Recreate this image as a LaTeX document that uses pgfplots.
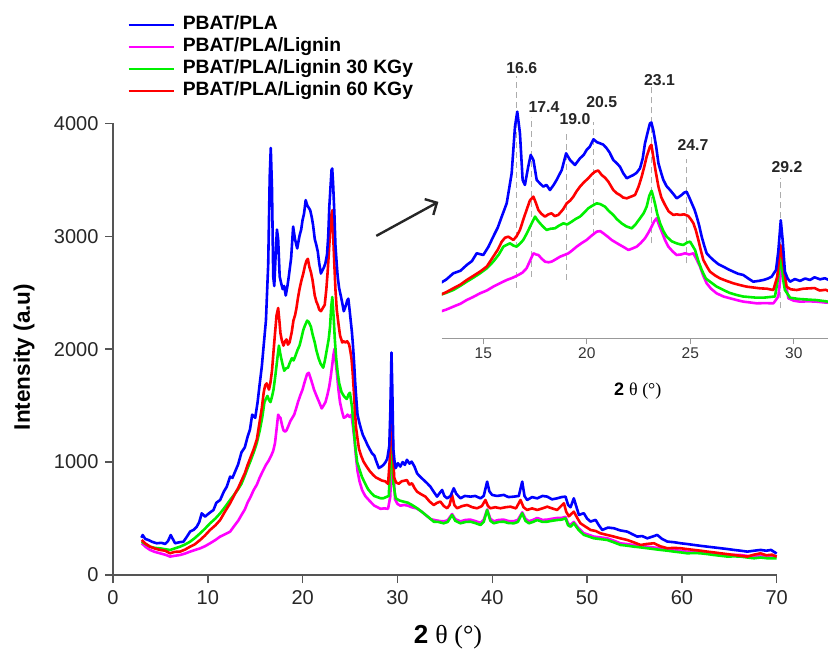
\documentclass[border=0pt]{standalone}
\usepackage{pgfplots}
\usepackage{pgfplotstable}
\pgfplotsset{compat=1.18}
\usepackage{fontspec}
\setmainfont{Liberation Sans}
\newfontfamily\serifgreek{Liberation Serif}
\usetikzlibrary{arrows.meta}

\definecolor{cblue}{RGB}{0,0,255}
\definecolor{cmag}{RGB}{255,0,255}
\definecolor{cgreen}{RGB}{0,240,0}
\definecolor{cred}{RGB}{255,0,0}
\definecolor{axisgray}{RGB}{85,85,85}

% XRD patterns, 2theta (deg) vs intensity (a.u.)
\pgfplotstableread{
x y
3.0 330
3.13 354
3.4 320
3.73 310
4.1 295
4.61 281
5.1 285
5.5 275
5.8 300
6.09 354
6.3 320
6.55 281
7.0 290
7.43 295
7.8 340
8.13 384
8.5 400
8.84 428
9.1 470
9.36 546
9.71 517
10.1 545
10.6 576
10.9 640
11.3 664
11.7 740
12.0 782
12.35 871
12.6 860
12.9 920
13.2 980
13.55 1086
13.9 1130
14.2 1225
14.45 1290
14.68 1420
15.0 1392
15.25 1530
15.48 1697
15.7 1850
15.89 2031
16.13 2253
16.37 2753
16.53 3531
16.64 3781
16.77 3420
16.9 2642
17.01 2559
17.17 2864
17.29 3059
17.42 2975
17.58 2642
17.75 2580
17.9 2531
18.05 2560
18.22 2475
18.4 2560
18.54 2642
18.79 2809
19.0 3086
19.19 2975
19.43 2892
19.67 3003
19.85 3060
19.99 3142
20.15 3200
20.32 3320
20.5 3270
20.64 3253
20.8 3230
20.96 3170
21.1 3100
21.28 2975
21.45 2920
21.6 2864
21.75 2760
21.93 2670
22.1 2700
22.25 2725
22.4 2760
22.57 2836
22.7 3000
22.81 3253
22.95 3450
23.05 3586
23.12 3600
23.21 3475
23.35 3200
23.46 2920
23.6 2750
23.7 2642
23.85 2540
24.02 2475
24.2 2400
24.34 2336
24.45 2360
24.58 2392
24.7 2430
24.82 2447
24.95 2350
25.07 2253
25.2 2150
25.31 2031
25.43 1880
25.55 1697
25.67 1550
25.79 1420
25.95 1360
26.11 1308
26.35 1240
26.6 1197
26.85 1150
27.08 1114
27.3 1080
27.56 1058
27.8 1000
28.04 947
28.3 960
28.53 975
28.75 1000
28.93 1031
29.14 1142
29.25 1450
29.37 1970
29.46 1642
29.57 1114
29.7 1000
29.82 947
30.05 990
30.3 960
30.55 1000
30.78 975
31.0 1020
31.27 986
31.5 1004
31.8 960
32.07 900
32.4 870
32.77 841
33.1 815
33.48 782
33.8 740
34.18 694
34.4 720
34.71 753
34.95 700
35.24 679
35.6 700
35.94 768
36.2 720
36.64 679
37.1 700
37.7 694
38.2 700
38.76 679
39.1 700
39.46 827
39.7 740
39.99 709
40.5 700
41.22 709
41.7 690
42.28 694
42.8 700
43.16 827
43.4 700
43.68 664
44.2 690
44.74 679
45.3 700
45.8 694
46.3 670
46.85 679
47.3 690
47.73 694
48.0 620
48.26 600
48.6 679
49.14 532
49.66 547
50.0 500
50.37 473
50.9 488
51.25 440
51.6 399
52.2 420
52.83 414
53.5 395
54.24 384
54.8 360
55.3 340
55.8 345
56.35 325
56.9 340
57.4 355
57.9 320
58.46 296
59.2 290
59.87 281
60.5 275
61.28 266
62.0 258
62.69 251
63.4 244
64.1 237
64.8 230
65.5 222
66.2 215
66.9 207
67.6 215
68.3 222
68.9 215
69.4 222
70.0 190
}\tblue

\pgfplotstableread{
x y
3.03 281
3.5 245
3.9 222
4.4 205
4.96 192
5.5 180
6.02 163
6.5 170
7.07 177
7.6 190
8.13 207
8.6 220
9.19 236
9.7 255
10.24 281
10.8 310
11.3 340
11.8 360
12.35 384
12.9 447
13.2 480
13.55 531
13.9 580
14.2 642
14.5 690
14.84 753
15.17 800
15.48 864
15.8 920
16.13 975
16.4 1010
16.69 1058
16.9 1100
17.09 1170
17.25 1290
17.42 1420
17.55 1400
17.66 1392
17.82 1330
17.98 1281
18.15 1270
18.3 1281
18.5 1320
18.71 1364
18.9 1390
19.11 1420
19.3 1470
19.51 1531
19.75 1590
19.99 1642
20.25 1720
20.48 1781
20.65 1790
20.8 1753
21.0 1700
21.2 1642
21.4 1600
21.6 1559
21.8 1520
22.01 1475
22.2 1500
22.41 1531
22.6 1590
22.81 1670
22.97 1760
23.13 1864
23.25 1950
23.37 2003
23.5 1880
23.62 1781
23.78 1640
23.94 1531
24.15 1450
24.34 1392
24.55 1400
24.74 1420
24.95 1400
25.15 1420
25.3 1320
25.47 1197
25.62 1050
25.79 920
26.0 830
26.27 753
26.6 700
26.92 670
27.25 640
27.56 614
27.9 600
28.21 586
28.6 590
29.01 586
29.25 697
29.41 1197
29.57 975
29.74 670
30.0 630
30.3 614
30.7 620
31.1 614
31.5 600
32.0 590
32.5 565
33.0 530
33.5 495
34.0 485
34.5 478
34.88 475
35.3 485
35.76 540
36.1 495
36.64 475
37.2 488
37.7 490
38.2 478
38.76 462
39.1 488
39.46 580
39.8 498
40.16 476
40.7 488
41.22 490
41.7 478
42.28 476
42.7 488
43.16 555
43.5 498
43.86 476
44.3 488
44.74 505
45.3 488
45.8 490
46.3 498
46.85 505
47.3 505
47.73 515
48.0 455
48.26 445
48.6 470
49.1 415
49.66 370
50.2 355
50.72 340
51.4 333
52.13 325
52.8 305
53.54 280
54.2 274
54.94 265
55.6 259
56.35 251
57.0 244
57.76 236
58.5 229
59.17 221
59.9 214
60.58 206
61.3 209
61.98 206
62.7 199
63.39 191
64.1 184
64.8 177
65.5 179
66.2 177
66.9 169
67.62 162
68.3 169
69.0 162
70.0 162
}\tmag

\pgfplotstableread{
x y
3.03 295
3.5 270
3.9 251
4.4 240
4.96 236
5.5 228
6.02 222
6.5 235
7.07 251
7.6 270
8.13 295
8.6 325
9.19 369
9.7 410
10.24 458
10.8 500
11.3 546
11.8 600
12.35 664
12.9 725
13.2 760
13.55 808
13.9 880
14.2 947
14.5 1010
14.84 1086
15.17 1170
15.48 1281
15.75 1400
15.97 1531
16.13 1560
16.29 1586
16.45 1550
16.61 1531
16.77 1580
16.93 1642
17.1 1750
17.26 1864
17.38 1950
17.5 2031
17.62 1970
17.74 1920
17.9 1860
18.06 1809
18.25 1830
18.46 1836
18.65 1880
18.87 1920
19.05 1900
19.27 1947
19.45 1990
19.67 2031
19.85 2090
20.07 2170
20.25 2210
20.48 2253
20.65 2240
20.88 2197
21.05 2130
21.28 2059
21.45 1990
21.68 1920
21.9 1870
22.17 1836
22.35 1900
22.57 2003
22.75 2090
22.89 2197
23.02 2380
23.13 2462
23.22 2350
23.29 2253
23.4 2080
23.54 1920
23.7 1790
23.86 1697
24.1 1620
24.34 1586
24.5 1570
24.66 1559
24.85 1600
24.99 1614
25.1 1550
25.23 1475
25.38 1300
25.55 1142
25.75 1000
25.95 947
26.25 870
26.6 808
26.9 760
27.24 725
27.55 700
27.88 690
28.2 680
28.53 680
28.8 690
29.09 700
29.25 1031
29.37 1400
29.5 950
29.57 808
29.82 680
30.2 660
30.62 650
31.1 640
31.54 620
32.1 590
32.77 546
33.3 510
33.83 472
34.3 470
34.88 458
35.3 470
35.76 531
36.1 480
36.64 458
37.2 470
37.7 472
38.2 460
38.76 443
39.1 470
39.46 576
39.8 480
40.16 458
40.7 470
41.22 472
41.7 460
42.28 458
42.7 470
43.16 546
43.5 480
43.86 458
44.3 470
44.74 487
45.3 470
45.8 472
46.3 480
46.85 487
47.3 490
47.73 502
48.0 440
48.26 428
48.6 458
49.1 400
49.66 355
50.2 340
50.72 325
51.4 318
52.13 310
52.8 290
53.54 266
54.2 260
54.94 251
55.6 245
56.35 237
57.0 230
57.76 222
58.5 215
59.17 207
59.9 200
60.58 192
61.3 195
61.98 192
62.7 185
63.39 177
64.1 170
64.8 163
65.5 165
66.2 163
66.9 155
67.62 148
68.3 155
69.0 148
70.0 148
}\tgreen

\pgfplotstableread{
x y
3.03 310
3.4 280
3.9 251
4.4 235
4.96 222
5.5 215
6.02 192
6.5 205
7.07 207
7.6 225
8.13 251
8.6 270
9.19 310
9.7 350
10.24 399
10.8 440
11.3 487
11.8 560
12.35 635
12.9 725
13.2 770
13.55 836
13.9 900
14.2 975
14.5 1040
14.84 1114
15.17 1200
15.48 1364
15.7 1480
15.89 1614
16.05 1680
16.21 1697
16.45 1642
16.6 1700
16.77 1809
16.95 2000
17.09 2142
17.25 2300
17.42 2364
17.55 2250
17.66 2142
17.8 2080
17.98 2031
18.15 2070
18.3 2086
18.45 2040
18.62 2059
18.85 2150
19.03 2253
19.2 2300
19.35 2364
19.5 2450
19.67 2531
19.85 2600
20.07 2670
20.25 2740
20.4 2781
20.55 2800
20.72 2725
20.88 2680
21.04 2614
21.15 2550
21.28 2475
21.45 2420
21.6 2392
21.75 2350
21.93 2336
22.1 2360
22.33 2392
22.5 2530
22.65 2697
22.78 2870
22.89 3031
23.05 3197
23.12 3230
23.21 3031
23.33 2780
23.46 2531
23.6 2350
23.78 2225
23.95 2120
24.18 2059
24.35 2070
24.5 2059
24.7 2070
24.9 2042
25.02 1990
25.15 1920
25.27 1800
25.39 1642
25.5 1480
25.63 1308
25.8 1200
25.95 1114
26.2 1050
26.43 1003
26.75 960
27.08 920
27.4 890
27.72 864
28.05 850
28.37 836
28.7 830
29.01 808
29.2 1031
29.35 1560
29.49 1253
29.65 864
29.85 820
30.14 808
30.45 830
30.78 836
31.0 841
31.25 800
31.54 812
31.8 770
32.07 738
32.5 715
32.95 694
33.4 650
33.83 620
34.2 640
34.53 650
34.9 610
35.24 591
35.5 620
35.76 709
36.0 620
36.29 591
36.8 610
37.35 620
37.9 600
38.4 591
38.9 610
39.28 664
39.55 610
39.81 591
40.3 600
40.87 591
41.4 600
41.92 605
42.5 590
42.98 664
43.3 600
43.68 576
44.2 590
44.74 576
45.3 590
45.8 605
46.3 590
46.85 576
47.2 606
47.56 635
47.8 560
48.08 520
48.6 561
49.0 500
49.3 458
49.8 430
50.37 399
50.9 390
51.42 369
52.1 355
52.83 340
53.5 325
54.24 310
54.9 290
55.65 266
56.3 275
57.06 281
57.7 255
58.46 237
59.2 240
59.87 237
60.5 230
61.28 222
62.0 215
62.69 207
63.4 200
64.1 192
64.8 185
65.5 177
66.2 170
66.9 163
67.6 180
68.3 192
68.9 175
69.5 180
70.0 163
}\tred

\pgfplotsset{
  xrd/.style={no markers, line width=2.6pt, line join=round, forget plot},
}
\tikzset{
  peak/.style={draw=gray!65, dash pattern=on 6pt off 4pt, line width=1.2pt},
  plab/.style={font=\bfseries\fontsize{15.8}{18}\selectfont, text=black!85, inner sep=0pt},
}

\begin{document}
\begin{tikzpicture}[x=1pt,y=1pt]
\path[use as bounding box] (0,0) rectangle (828,654);

% ---------------- full pattern ----------------
\begin{axis}[
  at={(113pt,79pt)}, anchor=south west,
  scale only axis, width=663.7pt, height=451.7pt,
  xmin=0, xmax=70, ymin=0, ymax=4000,
  axis lines=left,
  axis line style={-, draw=axisgray, line width=1.4pt},
  tick style={draw=axisgray, line width=1.4pt},
  tick align=outside,
  major tick length=8pt,
  xtick={0,10,...,70},
  ytick={0,1000,...,4000},
  minor tick num=0,
  /pgf/number format/assume math mode=true,
  /pgf/number format/1000 sep={},
  tick label style={font=\fontsize{20}{24}\selectfont, text=black!85},
  xticklabel style={yshift=-4pt},
  yticklabel style={xshift=-3pt},
  xlabel={{\bfseries 2} {\serifgreek θ (°)}},
  ylabel={\bfseries Intensity (a.u)},
  every axis x label/.style={at={(axis description cs:0.5047,-0.137)}, anchor=center, font=\fontsize{26}{30}\selectfont},
  every axis y label/.style={at={(axis description cs:-0.134,0.4826)}, rotate=90, anchor=center, font=\fontsize{22.5}{26}\selectfont},
  legend style={at={(axis description cs:0.0211,1.2380)}, anchor=north west,
    draw=none, fill=none, inner sep=0pt, row sep=4pt,
    nodes={inner sep=0pt, text height=14pt, text depth=4pt},
    font=\bfseries\fontsize{19.3}{22}\selectfont,
    /tikz/every odd column/.append style={column sep=8pt}},
  legend cell align=left,
  legend image code/.code={\draw[#1] (0pt,0pt) -- (45pt,0pt);},
  clip=false,
]
\addlegendimage{cblue, line width=2.6pt}
\addlegendentry{PBAT/PLA}
\addlegendimage{cmag, line width=2.6pt}
\addlegendentry{PBAT/PLA/Lignin}
\addlegendimage{cgreen, line width=2.6pt}
\addlegendentry{PBAT/PLA/Lignin 30 KGy}
\addlegendimage{cred, line width=2.6pt}
\addlegendentry{PBAT/PLA/Lignin 60 KGy}

\addplot[xrd, cmag]   table[x=x, y=y] {\tmag};
\addplot[xrd, cgreen] table[x=x, y=y] {\tgreen};
\addplot[xrd, cred]   table[x=x, y=y] {\tred};
\addplot[xrd, cblue]  table[x=x, y=y] {\tblue};

% pointer to the enlarged region
\draw[black!85, line width=2.4pt, -{Straight Barb[length=9pt, width=18pt, line width=2.4pt]}]
  (axis cs:27.77,3003) -- (axis cs:34.32,3304);
\end{axis}

% ---------------- enlarged 13-32 deg region ----------------
\begin{axis}[
  at={(441.9pt,315.5pt)}, anchor=south west,
  scale only axis, width=387.1pt, height=282pt,
  xmin=13, xmax=31.7, ymin=0, ymax=4700,
  axis x line*=bottom, axis y line=none,
  axis line style={-, draw=gray!80, line width=1.3pt},
  tick style={draw=gray!80, line width=1.3pt},
  tick align=outside,
  major tick length=6pt,
  xtick={15,20,25,30},
  /pgf/number format/assume math mode=true,
  tick label style={font=\fontsize{15.5}{18}\selectfont, text=black!80},
  xlabel={{\bfseries 2} {\serifgreek θ (°)}},
  every axis x label/.style={at={(axis description cs:0.506,-0.185)}, anchor=center, font=\fontsize{18}{21}\selectfont},
]
\draw[peak] (axis cs:16.61,842) -- (axis cs:16.61,4375);
\draw[peak] (axis cs:17.34,1030) -- (axis cs:17.34,3697);
\draw[peak] (axis cs:19.03,975) -- (axis cs:19.03,3425);
\draw[peak] (axis cs:20.31,1725) -- (axis cs:20.31,3613);
\draw[peak] (axis cs:23.14,1587) -- (axis cs:23.14,4197);
\draw[peak] (axis cs:24.83,1253) -- (axis cs:24.83,2992);
\draw[peak] (axis cs:29.37,503) -- (axis cs:29.37,2675);

\addplot[xrd, cmag]   table[x=x, y=y] {\tmag};
\addplot[xrd, cgreen] table[x=x, y=y] {\tgreen};
\addplot[xrd, cred]   table[x=x, y=y] {\tred};
\addplot[xrd, cblue]  table[x=x, y=y] {\tblue};

\node[plab] at (axis cs:16.86,4500) {16.6};
\node[plab] at (axis cs:17.93,3850) {17.4};
\node[plab] at (axis cs:19.43,3663) {19.0};
\node[plab] at (axis cs:20.72,3947) {20.5};
\node[plab] at (axis cs:23.51,4308) {23.1};
\node[plab] at (axis cs:25.13,3220) {24.7};
\node[plab] at (axis cs:29.67,2863) {29.2};
\end{axis}
\end{tikzpicture}
\end{document}
